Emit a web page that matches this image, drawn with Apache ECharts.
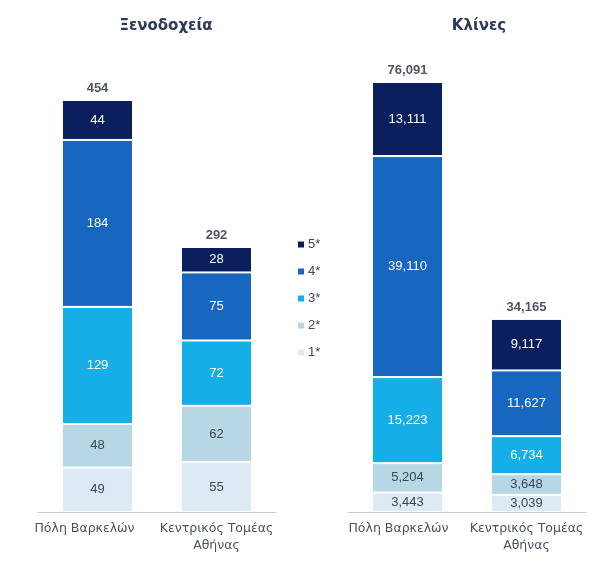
<!DOCTYPE html>
<html><head><meta charset="utf-8">
<script src="https://cdn.jsdelivr.net/npm/echarts@6/dist/echarts.min.js"></script>
<style>html,body{margin:0;padding:0;background:#fff}#c{width:601px;height:565px}</style>
</head><body><div id="c"></div>
<script>
const categories = ['Πόλη Βαρκελών', 'Κεντρικός Τομέας\nΑθήνας'];
const starNames = ['5*', '4*', '3*', '2*', '1*'];
const hotels1 = [49, 55];
const hotels2 = [48, 62];
const hotels3 = [129, 72];
const hotels4 = [184, 75];
const hotels5 = [44, 28];
const hotelsTotal = [454, 292];
const beds1 = [3443, 3039];
const beds2 = [5204, 3648];
const beds3 = [15223, 6734];
const beds4 = [39110, 11627];
const beds5 = [13111, 9117];
const bedsTotal = [76091, 34165];

const colors = {'5*':'#0b1f5e','4*':'#1766bf','3*':'#16aee6','2*':'#b7d7e5','1*':'#dceaf3'};
const labelColors = {'5*':'#ffffff','4*':'#ffffff','3*':'#ffffff','2*':'#3c4656','1*':'#3c4656'};
const fmt = v => v.toLocaleString('en-US');
const FONT = 'Liberation Sans, Arial, sans-serif';

function mk(name, data, idx) {
  return {
    name, type:'bar', stack:'s'+idx, xAxisIndex:idx, yAxisIndex:idx, data,
    barWidth:71,
    itemStyle:{color:colors[name], borderColor:'#fff', borderWidth:1},
    label:{show:true, position:'inside', color:labelColors[name], fontSize:13,
      fontFamily:FONT, formatter:p=>fmt(p.value)},
    emphasis:{disabled:true}
  };
}
function totals(data, idx) {
  return {type:'scatter', xAxisIndex:idx, yAxisIndex:idx, data, symbolSize:0,
    label:{show:true, position:'top', distance:5, color:'#222a3a', fontWeight:'bold', fontSize:13,
      fontFamily:FONT, formatter:p=>fmt(p.value)}, z:10};
}
const hotelSets = {'1*':hotels1,'2*':hotels2,'3*':hotels3,'4*':hotels4,'5*':hotels5};
const bedSets = {'1*':beds1,'2*':beds2,'3*':beds3,'4*':beds4,'5*':beds5};
const order = ['1*','2*','3*','4*','5*'];
const series = [];
order.forEach(n=>series.push(mk(n, hotelSets[n], 0)));
order.forEach(n=>series.push(mk(n, bedSets[n], 1)));
series.push(totals(hotelsTotal, 0));
series.push(totals(bedsTotal, 1));

const xAx = (i, shift) => ({type:'category', gridIndex:i, data:categories,
  axisLine:{lineStyle:{color:'#c8cdd3', width:1}}, axisTick:{show:false},
  axisLabel:{color:'#4a5260', fontSize:12.5, margin:8, lineHeight:17, interval:0,
    fontFamily:'DejaVu Sans, sans-serif',
    formatter:(v, k)=> k === 0 ? '{a|' + v + '}' : v,
    rich:{a:{padding:[0, shift, 0, 0], fontSize:12.5, color:'#4a5260', fontFamily:'DejaVu Sans, sans-serif'}}}});
const yAx = (i,max) => ({type:'value', gridIndex:i, min:0, max, show:false, splitLine:{show:false}});

const chart = echarts.init(document.getElementById('c'));
chart.setOption({
  animation:false,
  title:[
    {text:'Ξενοδοχεία', left:161, top:14, textAlign:'center',
      textStyle:{color:'#2c3a58', fontSize:15, fontWeight:'bold', fontFamily:'DejaVu Sans, sans-serif'}},
    {text:'Κλίνες', left:474, top:14, textAlign:'center',
      textStyle:{color:'#2c3a58', fontSize:15, fontWeight:'bold', fontFamily:'DejaVu Sans, sans-serif'}}
  ],
  legend:{data:starNames, orient:'vertical', left:291, top:233, itemGap:14, itemWidth:8, itemHeight:8,
    icon:'rect', textStyle:{color:'#3c4656', fontSize:13, padding:[0,0,0,-2], fontFamily:FONT},
    selectedMode:false},
  grid:[
    {left:38, width:238, top:100, height:412},
    {left:348, width:238, top:82, height:430}
  ],
  xAxis:[xAx(0, 26), xAx(1, 18)],
  yAxis:[yAx(0,454), yAx(1,76091)],
  series
});
</script></body></html>
